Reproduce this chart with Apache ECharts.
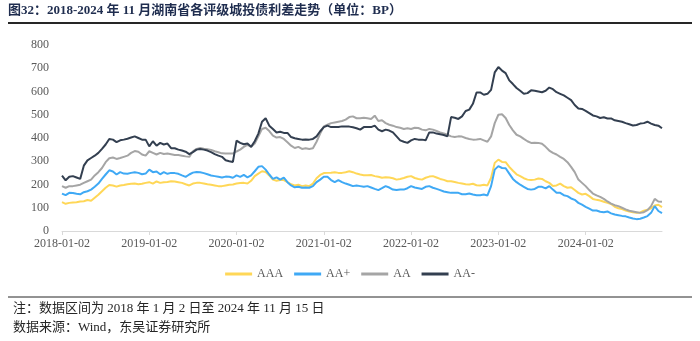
<!DOCTYPE html>
<html><head><meta charset="utf-8">
<script src="https://cdn.jsdelivr.net/npm/echarts@6/dist/echarts.min.js"></script>
<style>html,body{margin:0;padding:0;background:#fff}#c{width:700px;height:341px}</style>
</head><body><div id="c"></div>
<script>
// categories: half-monthly sample dates, 2018-01-02 .. 2024-11-15
const dates = [];
for (let y = 2018; y <= 2024; y++) {
  for (let m = 1; m <= 12; m++) {
    if (y === 2024 && m > 11) break;
    const mm = String(m).padStart(2, '0');
    dates.push(y + '-' + mm + '-02');
    dates.push((y === 2024 && m === 11) ? (y + '-' + mm + '-15') : (y + '-' + mm + '-16'));
  }
}
const seriesNames = ['AAA', 'AA+', 'AA', 'AA-'];
const yTicks = [0, 100, 200, 300, 400, 500, 600, 700, 800];

const aaa = [124,117,121,123,124,127,128,133,130,143,156,171,186,198,196,191,196,198,201,203,204,201,203,207,210,204,213,207,210,211,214,213,210,207,
201,196,204,207,207,204,201,199,196,193,193,196,199,200,204,206,207,204,216,236,247,257,254,239,221,216,219,219,210,201,196,199,193,
196,193,204,227,241,249,250,251,253,250,250,253,257,253,247,243,240,240,241,236,233,229,231,230,227,221,224,228,233,236,228,224,221,
229,234,236,230,224,220,214,214,211,207,204,201,200,203,197,196,199,196,229,293,307,297,296,276,259,244,236,227,221,219,221,
226,224,
214,207,194,196,204,193,186,188,176,164,157,160,150,138,134,131,126,121,116,104,98,94,88,84,81,78,80,87,91,98,110,113,103];

const aaPlus = [161,154,164,163,160,158,167,171,178,190,204,224,243,261,256,243,253,247,246,250,253,250,244,247,264,253,256,244,253,246,250,249,246,239,
233,243,251,254,253,249,244,239,236,233,230,234,233,229,239,233,241,231,239,257,276,279,264,243,224,231,221,230,210,196,188,190,186,
187,186,193,210,221,233,233,219,210,219,210,204,199,193,196,193,190,193,187,181,176,184,193,187,178,176,178,178,184,193,187,184,181,
190,193,186,181,176,170,167,164,164,164,158,158,161,157,154,154,157,153,193,264,279,271,270,247,224,210,199,190,181,178,181,
190,190,
183,193,178,164,164,154,150,140,134,121,113,104,96,88,88,83,81,84,76,71,68,65,63,58,54,51,53,58,64,78,107,86,77];

const aa = [193,186,193,193,196,199,207,214,221,239,253,271,296,313,316,310,314,319,324,336,344,341,329,324,343,336,329,336,331,333,330,327,327,324,
321,319,343,353,357,354,352,349,343,339,334,333,333,333,342,350,362,370,362,376,407,439,444,430,410,402,404,396,382,367,357,362,353,
356,353,356,384,419,450,457,464,467,470,473,479,490,493,485,485,487,485,482,496,473,476,464,457,453,447,444,439,442,439,444,443,436,
433,439,436,430,424,420,414,407,404,407,406,400,396,393,394,396,390,384,407,464,500,502,486,456,433,414,407,396,386,379,380,
379,375,
362,346,336,329,319,310,296,276,253,221,207,193,176,161,153,147,138,127,118,111,107,100,93,87,84,81,78,81,90,107,138,127,126];

const aaMinus = [238,218,233,236,230,224,281,304,314,324,336,353,372,396,393,382,390,393,397,402,407,400,393,393,364,386,367,379,372,376,356,356,350,346,
341,331,339,350,353,350,346,339,331,324,319,304,300,297,389,379,373,376,362,386,419,470,485,453,439,424,427,422,422,404,399,396,393,
394,393,396,407,429,447,453,447,447,447,450,450,449,446,442,436,447,447,447,453,436,429,436,432,424,407,390,384,379,390,396,393,393,
390,424,424,419,416,413,407,490,487,482,493,516,522,547,596,596,586,590,607,682,705,690,679,648,632,615,603,590,593,605,603,
600,597,
603,617,610,597,590,583,573,563,542,527,525,517,507,497,493,486,489,484,484,476,473,470,464,459,454,456,462,464,470,462,456,453,442];

const colors = ['#FFD757', '#3FA9F5', '#A5A5A5', '#333F50'];
const values = [aaa, aaPlus, aa, aaMinus];

const chart = echarts.init(document.getElementById('c'), null, {renderer: 'canvas'});
const serif = '"Liberation Serif", "Times New Roman", "Noto Sans CJK SC", serif';
const cjk = '"Liberation Serif", "Noto Sans CJK SC", serif';
const isYearTick = (idx, val) => /-01-02$/.test(val);

chart.setOption({
  animation: false,
  backgroundColor: '#fff',
  color: colors,
  grid: {left: 62, right: 38, top: 45, bottom: 110, containLabel: false},
  legend: {
    data: seriesNames,
    left: 'center',
    top: 263,
    icon: 'rect',
    itemWidth: 27,
    itemHeight: 3,
    itemGap: 11,
    textStyle: {fontFamily: serif, fontSize: 12, color: '#595959'}
  },
  xAxis: {
    type: 'category',
    data: dates,
    boundaryGap: false,
    axisLine: {lineStyle: {color: '#D9D9D9', width: 1}},
    axisTick: {show: true, interval: isYearTick, length: 4, lineStyle: {color: '#D9D9D9'}},
    axisLabel: {interval: isYearTick, fontFamily: serif, fontSize: 12, color: '#595959', margin: 7},
    splitLine: {show: false}
  },
  yAxis: {
    type: 'value',
    min: yTicks[0],
    max: yTicks[yTicks.length - 1],
    interval: 100,
    axisLine: {show: false},
    axisTick: {show: false},
    splitLine: {show: false},
    axisLabel: {fontFamily: serif, fontSize: 12, color: '#595959', margin: 13}
  },
  series: seriesNames.map((n, k) => ({
    name: n,
    type: 'line',
    data: values[k],
    showSymbol: false,
    symbol: 'none',
    lineStyle: {width: 2, color: colors[k]},
    itemStyle: {color: colors[k]}
  })),
  graphic: [
    {type: 'text', left: 8, top: 4, style: {text: '图32：2018-2024 年 11 月湖南省各评级城投债利差走势（单位：BP）', font: 'bold 13px ' + cjk, fill: '#1F2D4F'}},
    {type: 'line', shape: {x1: 8, y1: 23, x2: 692, y2: 23}, style: {stroke: '#262626', lineWidth: 2}},
    {type: 'line', shape: {x1: 8, y1: 297, x2: 692, y2: 297}, style: {stroke: '#262626', lineWidth: 1}},
    {type: 'text', left: 13, top: 302, style: {text: '注：数据区间为 2018 年 1 月 2 日至 2024 年 11 月 15 日', font: '13px ' + cjk, fill: '#262626'}},
    {type: 'text', left: 13, top: 321, style: {text: '数据来源：Wind，东吴证券研究所', font: '13px ' + cjk, fill: '#262626'}}
  ]
});
</script>
</body></html>
